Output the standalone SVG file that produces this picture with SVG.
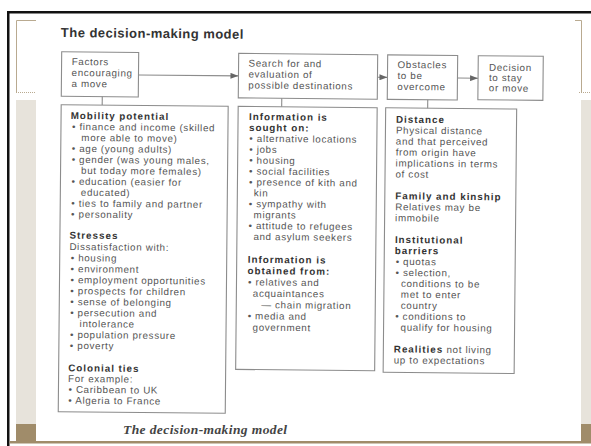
<svg xmlns="http://www.w3.org/2000/svg" width="591" height="446" viewBox="0 0 591 446">
<defs>
<marker id="ah" viewBox="0 0 8 6" refX="8" refY="3" markerWidth="8" markerHeight="6" markerUnits="userSpaceOnUse" orient="auto"><path d="M0,0 L8,3 L0,6 z" fill="#666"/></marker>
<style>
.box{fill:none;stroke:#8c8c8c;stroke-width:1.1}
.conn{stroke:#8c8c8c;stroke-width:1.1;fill:none}
.t{font-family:"Liberation Sans",Arial,sans-serif;font-size:9.8px;fill:#555;letter-spacing:0.65px}
.b{font-weight:bold;fill:#333;letter-spacing:1px}
.title{font-family:"Liberation Sans",Arial,sans-serif;font-size:13px;font-weight:bold;fill:#333;letter-spacing:0.47px}
.cap{font-family:"Liberation Serif",serif;font-size:13.5px;font-weight:bold;font-style:italic;fill:#444;letter-spacing:0.4px}
.band{fill:#e7e3db}
.brown{fill:#a08c6a}
.thin{stroke:#b9aa90;stroke-width:1;fill:none}
</style>
</defs>
<rect width="591" height="446" fill="#fff"/>
<g id="frame">
<rect x="7" y="11" width="2.5" height="435" fill="#111"/>
<rect x="7" y="11" width="584" height="2.5" fill="#111"/>
<rect class="band" x="16" y="100" width="20" height="324"/>
<rect class="brown" x="16" y="424" width="20" height="17"/>
<rect class="band" x="581" y="100" width="10" height="324"/>
<rect class="brown" x="581" y="424" width="10" height="17"/>
<rect class="brown" x="9.5" y="441" width="581.5" height="2.5"/>
<path class="thin" d="M36,20.5 H16.5 V92"/>
<path class="thin" d="M575,20.5 H581.5 V92"/>
<line class="thin" x1="16" y1="92.5" x2="36" y2="92.5" stroke-dasharray="1,1"/>
<line class="thin" x1="579" y1="92.5" x2="591" y2="92.5" stroke-dasharray="1,1"/>
</g>
<g id="diagram" transform="rotate(0.55 300 230)">
<text class="title" x="59" y="39.3">The decision-making model</text>
<g id="connectors">
<line class="conn" x1="137" y1="76.5" x2="237" y2="76.5" marker-end="url(#ah)"/>
<line class="conn" x1="376" y1="76.5" x2="386" y2="76.5" marker-end="url(#ah)"/>
<line class="conn" x1="456" y1="76.5" x2="476.6" y2="76.5" marker-end="url(#ah)"/>
<line class="conn" x1="101" y1="98.5" x2="101" y2="107"/>
<line class="conn" x1="280.5" y1="98.5" x2="280.5" y2="107"/>
<line class="conn" x1="426.5" y1="98.5" x2="426.5" y2="107"/>
</g>
<g id="factors">
<rect class="box" x="60" y="54" width="77" height="44.5"/>
<text class="t"><tspan x="70.1" y="67.2">Factors</tspan><tspan x="70.1" y="78.2">encouraging</tspan><tspan x="70.1" y="89.2">a move</tspan></text>
</g>
<g id="search">
<rect class="box" x="237" y="54" width="139" height="44.5"/>
<text class="t"><tspan x="247" y="67">Search for and</tspan><tspan x="247" y="78">evaluation of</tspan><tspan x="247" y="89">possible destinations</tspan></text>
</g>
<g id="obstacles">
<rect class="box" x="386" y="54" width="70" height="44.5"/>
<text class="t"><tspan x="396" y="67">Obstacles</tspan><tspan x="396" y="78">to be</tspan><tspan x="396" y="89">overcome</tspan></text>
</g>
<g id="decision">
<rect class="box" x="476.6" y="54" width="65" height="44"/>
<text class="t"><tspan x="487.5" y="68.9">Decision</tspan><tspan x="487.5" y="79.2">to stay</tspan><tspan x="487.5" y="89.5">or move</tspan></text>
</g>
<g id="mobility">
<rect class="box" x="60" y="107" width="167" height="307"/>
<text class="t">
<tspan class="b" x="69.6" y="121.2">Mobility potential</tspan>
<tspan x="71" y="132.15">• finance and income (skilled</tspan>
<tspan x="80.5" y="143.1">more able to move)</tspan>
<tspan x="71" y="154.05">• age (young adults)</tspan>
<tspan x="71" y="165">• gender (was young males,</tspan>
<tspan x="80.5" y="175.95">but today more females)</tspan>
<tspan x="71" y="186.9">• education (easier for</tspan>
<tspan x="80.5" y="197.85">educated)</tspan>
<tspan x="71" y="208.8">• ties to family and partner</tspan>
<tspan x="71" y="219.75">• personality</tspan>
<tspan class="b" x="69.6" y="240.8">Stresses</tspan>
<tspan x="69.6" y="252.2">Dissatisfaction with:</tspan>
<tspan x="71" y="263.4">• housing</tspan>
<tspan x="71" y="274.4">• environment</tspan>
<tspan x="71" y="285.4">• employment opportunities</tspan>
<tspan x="71" y="296.4">• prospects for children</tspan>
<tspan x="71" y="307.3">• sense of belonging</tspan>
<tspan x="71" y="318.3">• persecution and</tspan>
<tspan x="80.5" y="329.2">intolerance</tspan>
<tspan x="71" y="340.2">• population pressure</tspan>
<tspan x="71" y="351.1">• poverty</tspan>
<tspan class="b" x="69.6" y="373.5">Colonial ties</tspan>
<tspan x="69.6" y="384.2">For example:</tspan>
<tspan x="70" y="395">• Caribbean to UK</tspan>
<tspan x="70" y="405.9">• Algeria to France</tspan>
</text>
</g>
<g id="information">
<rect class="box" x="237" y="107" width="139" height="263"/>
<text class="t">
<tspan class="b" x="248" y="120.5">Information is</tspan>
<tspan class="b" x="248" y="131.4">sought on:</tspan>
<tspan x="248.5" y="142.3">• alternative locations</tspan>
<tspan x="248.5" y="153.2">• jobs</tspan>
<tspan x="248.5" y="164.1">• housing</tspan>
<tspan x="248.5" y="175">• social facilities</tspan>
<tspan x="248.5" y="185.9">• presence of kith and</tspan>
<tspan x="253.5" y="196.8">kin</tspan>
<tspan x="248.5" y="207.7">• sympathy with</tspan>
<tspan x="253.5" y="218.6">migrants</tspan>
<tspan x="248.5" y="229.5">• attitude to refugees</tspan>
<tspan x="253.5" y="240.4">and asylum seekers</tspan>
<tspan class="b" x="248" y="263.3">Information is</tspan>
<tspan class="b" x="248" y="274.6">obtained from:</tspan>
<tspan x="248.5" y="285.9">• relatives and</tspan>
<tspan x="253.5" y="297.2">acquaintances</tspan>
<tspan x="262" y="308.5">— chain migration</tspan>
<tspan x="248.5" y="319.8">• media and</tspan>
<tspan x="253.5" y="331.1">government</tspan>
</text>
</g>
<g id="distance">
<rect class="box" x="384.5" y="107" width="131" height="264.5"/>
<text class="t">
<tspan class="b" x="395" y="121.8">Distance</tspan>
<tspan x="395" y="132.7">Physical distance</tspan>
<tspan x="395" y="143.7">and that perceived</tspan>
<tspan x="395" y="154.6">from origin have</tspan>
<tspan x="395" y="165.6">implications in terms</tspan>
<tspan x="395" y="176.5">of cost</tspan>
<tspan class="b" x="395" y="198.4">Family and kinship</tspan>
<tspan x="395" y="209.3">Relatives may be</tspan>
<tspan x="395" y="220.3">immobile</tspan>
<tspan class="b" x="395" y="242.1">Institutional</tspan>
<tspan class="b" x="395" y="253.1">barriers</tspan>
<tspan x="396" y="264">• quotas</tspan>
<tspan x="396" y="275">• selection,</tspan>
<tspan x="401.5" y="285.9">conditions to be</tspan>
<tspan x="401.5" y="296.8">met to enter</tspan>
<tspan x="401.5" y="307.8">country</tspan>
<tspan x="396" y="318.7">• conditions to</tspan>
<tspan x="401.5" y="329.7">qualify for housing</tspan>
<tspan class="b" x="395" y="351.5">Realities</tspan><tspan> not living</tspan>
<tspan x="395" y="362.5">up to expectations</tspan>
</text>
</g>
</g>
<text class="cap" x="123" y="434">The decision-making model</text>
</svg>
